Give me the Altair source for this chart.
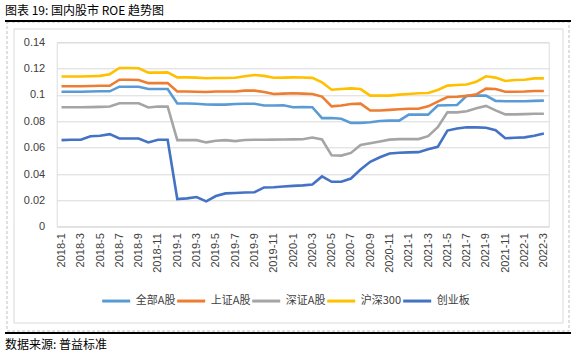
import altair as alt
import pandas as pd

months = [f"{y}-{m}" for y in range(2018, 2023) for m in range(1, 13)][:51]
tick_months = months[::2]

s_all = [0.1025, 0.1025, 0.1025, 0.1026, 0.1028, 0.1028, 0.1063, 0.1063, 0.1063, 0.1046, 0.1046, 0.1046,
         0.0935, 0.0935, 0.0934, 0.0928, 0.0927, 0.0927, 0.0932, 0.0934, 0.0934, 0.0920, 0.0920, 0.0922,
         0.0907, 0.0908, 0.0907, 0.0824, 0.0825, 0.0820, 0.0788, 0.0788, 0.0793, 0.0802, 0.0805, 0.0805,
         0.0851, 0.0851, 0.0851, 0.0920, 0.0922, 0.0924, 0.0993, 0.0995, 0.0995, 0.0955, 0.0953, 0.0953,
         0.0953, 0.0955, 0.0957]
s_sh = [0.1066, 0.1066, 0.1066, 0.1068, 0.1070, 0.1070, 0.1116, 0.1116, 0.1114, 0.1090, 0.1090, 0.1090,
        0.1026, 0.1026, 0.1025, 0.1023, 0.1026, 0.1026, 0.1026, 0.1033, 0.1033, 0.1023, 0.1008, 0.1010,
        0.1013, 0.1010, 0.1008, 0.0988, 0.0914, 0.0920, 0.0932, 0.0934, 0.0882, 0.0882, 0.0887, 0.0892,
        0.0895, 0.0895, 0.0914, 0.0950, 0.0985, 0.0987, 0.0993, 0.1005, 0.1048, 0.1046, 0.1025, 0.1025,
        0.1026, 0.1030, 0.1030]
s_sz = [0.0907, 0.0907, 0.0907, 0.0908, 0.0910, 0.0912, 0.0937, 0.0937, 0.0937, 0.0905, 0.0912, 0.0913,
        0.0657, 0.0657, 0.0657, 0.0640, 0.0652, 0.0657, 0.0650, 0.0658, 0.0660, 0.0660, 0.0661, 0.0662,
        0.0663, 0.0664, 0.0677, 0.0662, 0.0542, 0.0540, 0.0560, 0.0620, 0.0633, 0.0647, 0.0661, 0.0665,
        0.0665, 0.0665, 0.0687, 0.0756, 0.0868, 0.0868, 0.0877, 0.0899, 0.0917, 0.0883, 0.0853, 0.0853,
        0.0855, 0.0857, 0.0858]
s_hs300 = [0.1140, 0.1140, 0.1140, 0.1142, 0.1145, 0.1158, 0.1205, 0.1205, 0.1203, 0.1170, 0.1170, 0.1172,
           0.1134, 0.1134, 0.1132, 0.1127, 0.1129, 0.1129, 0.1131, 0.1142, 0.1152, 0.1145, 0.1131, 0.1132,
           0.1134, 0.1133, 0.1130, 0.1096, 0.1040, 0.1045, 0.1050, 0.1045, 0.0995, 0.0995, 0.0995, 0.1003,
           0.1008, 0.1013, 0.1015, 0.1038, 0.1071, 0.1076, 0.1080, 0.1101, 0.1142, 0.1132, 0.1106, 0.1114,
           0.1116, 0.1126, 0.1126]
s_cyb = [0.0657, 0.0660, 0.0660, 0.0687, 0.0690, 0.0703, 0.0670, 0.0670, 0.0670, 0.0640, 0.0660, 0.0660,
         0.0210, 0.0215, 0.0225, 0.0192, 0.0233, 0.0253, 0.0256, 0.0260, 0.0262, 0.0298, 0.0300, 0.0305,
         0.0310, 0.0314, 0.0321, 0.0382, 0.0341, 0.0341, 0.0366, 0.0434, 0.0493, 0.0527, 0.0556, 0.0561,
         0.0564, 0.0566, 0.0588, 0.0606, 0.0730, 0.0745, 0.0755, 0.0754, 0.0751, 0.0732, 0.0672, 0.0675,
         0.0678, 0.0691, 0.0707]

series_names = ["全部A股", "上证A股", "深证A股", "沪深300", "创业板"]
series_vals = [s_all, s_sh, s_sz, s_hs300, s_cyb]
colors = ["#5B9BD5", "#ED7D31", "#A5A5A5", "#FFC000", "#4472C4"]
y_ticks = [0, 0.02, 0.04, 0.06, 0.08, 0.1, 0.12, 0.14]

rows = []
for name, vals in zip(series_names, series_vals):
    for m, v in zip(months, vals):
        rows.append({"month": m, "series": name, "roe": v})
df = pd.DataFrame(rows)

W, H = 492, 184.4
OX, OY = 56.7, 42.3
FONT = "Noto Sans CJK SC"
one = alt.Data(values=[{}])

lines = alt.Chart(df).mark_line(strokeWidth=2.6).encode(
    x=alt.X("month:N", sort=months,
            axis=alt.Axis(values=tick_months, labelAngle=270, grid=False, ticks=False, domain=False,
                          labelFont="Liberation Sans", labelFontSize=11, labelColor="#404040",
                          labelPadding=6, title=None)),
    y=alt.Y("roe:Q", scale=alt.Scale(domain=[0, 0.14], nice=False),
            axis=alt.Axis(values=y_ticks, format="~g", grid=True, gridColor="#d9d9d9", ticks=False,
                          domain=False, labelFont="Liberation Sans", labelFontSize=11,
                          labelColor="#404040", labelPadding=12, title=None)),
    color=alt.Color("series:N", scale=alt.Scale(domain=series_names, range=colors),
                    legend=alt.Legend(orient="none", direction="horizontal", legendX=44, legendY=243,
                                      title=None, symbolType="stroke", symbolSize=784,
                                      symbolStrokeWidth=3, labelFont=FONT, labelFontSize=11,
                                      labelColor="#404040", labelOffset=4, columnPadding=-5)),
)

title = alt.Chart(one).mark_text(text="图表 19:  国内股市 ROE 趋势图", font=FONT, fontSize=12,
                                 align="left", baseline="alphabetic", color="#000000").encode(
    x=alt.value(5 - OX), y=alt.value(15 - OY))
source = alt.Chart(one).mark_text(text="数据来源:  普益标准", font=FONT, fontSize=12,
                                  align="left", baseline="alphabetic", color="#000000").encode(
    x=alt.value(5 - OX), y=alt.value(349 - OY))
top_rule = alt.Chart(one).mark_rule(color="#000000", strokeWidth=2).encode(
    x=alt.value(5 - OX), x2=alt.value(571 - OX), y=alt.value(21 - OY))
bot_rule = alt.Chart(one).mark_rule(color="#000000", strokeWidth=2).encode(
    x=alt.value(5 - OX), x2=alt.value(571 - OX), y=alt.value(333 - OY))
dashed = alt.Chart(one).mark_rect(fill="transparent", stroke="#bfbfbf", strokeWidth=1,
                                  strokeDash=[3, 2]).encode(
    x=alt.value(7 - OX), x2=alt.value(569 - OX), y=alt.value(22 - OY), y2=alt.value(331 - OY))
inner = alt.Chart(one).mark_rect(fill="transparent", stroke="#d9d9d9", strokeWidth=1).encode(
    x=alt.value(14 - OX), x2=alt.value(563 - OX), y=alt.value(29 - OY), y2=alt.value(323 - OY))

chart = alt.layer(dashed, inner, top_rule, bot_rule, title, source, lines).properties(
    width=W, height=H,
    autosize=alt.AutoSizeParams(type="none"),
    padding={"left": OX, "top": OY, "right": 573 - OX - W, "bottom": 353 - OY - H},
).configure_view(stroke=None).configure(background="#ffffff")

chart.save("out.html", embed_options={"renderer": "svg", "actions": False})
